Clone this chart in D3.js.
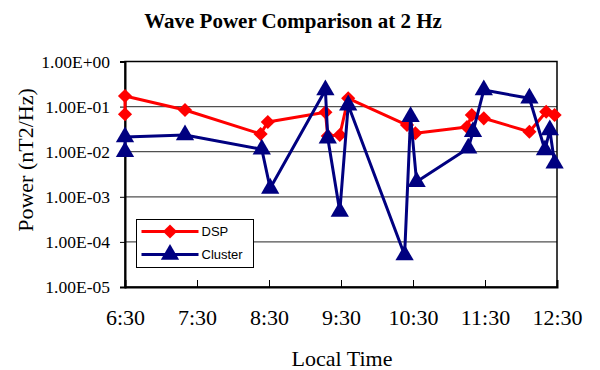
<!DOCTYPE html>
<html lang="en">
<head>
<meta charset="utf-8">
<style>
  body { margin: 0; background: white; }
  svg { background-color: white; font-family: 'Liberation Serif', 'Times New Roman', serif; }
  text.title { font-size: 21px; font-weight: bold; }
  .legend text { font-family: 'Liberation Sans', Arial, sans-serif; font-size: 13px; }
  .axis text { font-family: 'Liberation Serif', 'Times New Roman', serif; fill: #000; }
</style>
</head>
<body>
<div id="my_dataviz"></div>
<script src="https://d3js.org/d3.v7.min.js"></script>
<script>

// data (local time, power in nT2/Hz)
var dspTimes = ["6:30","6:30","7:20","8:23","8:29","9:17","9:19","9:29","9:36","10:25","10:32","11:15","11:19","11:29","12:07","12:21","12:28"];
var dspValues = [0.0675, 0.172, 0.084, 0.0247, 0.0456, 0.0748, 0.0223, 0.0235, 0.153, 0.039, 0.0256, 0.0353, 0.065, 0.055, 0.0277, 0.077, 0.065];

var clusterTimes = ["6:30","6:30","7:20","8:24","8:31","9:17","9:19","9:29","9:36","10:23","10:28","10:33","11:16","11:20","11:29","12:07","12:20","12:24","12:28"];
var clusterValues = [0.010, 0.0212, 0.0235, 0.0113, 0.00154, 0.233, 0.0198, 0.00047, 0.108, 0.000051, 0.0597, 0.00216, 0.0119, 0.0277, 0.233, 0.153, 0.0109, 0.0303, 0.00553];

var xTickLabels = ["6:30","7:30","8:30","9:30","10:30","11:30","12:30"];
var yTickValues = [1, 1e-1, 1e-2, 1e-3, 1e-4, 1e-5];

var seriesNames = ["DSP", "Cluster"];

function toMin(s) { var p = s.split(":"); return +p[0] * 60 + +p[1]; }
function sci(v) {
  var e = Math.round(Math.log10(v));
  var a = Math.abs(e);
  return "1.00E" + (e < 0 ? "-" : "+") + (a < 10 ? "0" : "") + a;
}

var margin = {top: 61.5, right: 43, bottom: 83, left: 125};
var W = 600, H = 370;
var width = W - margin.left - margin.right;
var height = H - margin.top - margin.bottom;

var svg = d3.select("#my_dataviz").append("svg")
  .attr("width", W).attr("height", H);

var g = svg.append("g")
  .attr("transform", "translate(" + margin.left + "," + margin.top + ")");

var x = d3.scaleLinear()
  .domain([toMin(xTickLabels[0]), toMin(xTickLabels[xTickLabels.length - 1])])
  .range([0, width]);

var y = d3.scaleLog()
  .domain([1e-5, 1])
  .range([height, 0]);

// gridlines
g.append("g")
  .selectAll("line")
  .data(yTickValues.slice(1, 5))
  .enter().append("line")
    .attr("x1", 0).attr("x2", width)
    .attr("y1", function(d) { return y(d); })
    .attr("y2", function(d) { return y(d); })
    .attr("stroke", "#505050")
    .attr("stroke-width", 1.3);

// frame (top and right)
g.append("rect")
  .attr("x", 0).attr("y", 0)
  .attr("width", width).attr("height", height)
  .attr("fill", "none")
  .attr("stroke", "#000")
  .attr("stroke-width", 1.5);

// Y axis
var yAxis = g.append("g")
  .attr("class", "axis")
  .call(d3.axisLeft(y).tickValues(yTickValues).tickFormat(sci).tickSize(5).tickPadding(10));
yAxis.attr("font-family", null);
yAxis.select(".domain").attr("stroke-width", 2);
yAxis.selectAll("text").style("font-size", "17.5px");

// X axis, ticks pointing inside
var xAxis = g.append("g")
  .attr("class", "axis")
  .attr("transform", "translate(0," + height + ")")
  .call(d3.axisBottom(x)
    .tickValues(xTickLabels.map(toMin))
    .tickFormat(function(d, i) { return xTickLabels[i]; })
    .tickSize(-7).tickPadding(22));
xAxis.attr("font-family", null);
xAxis.select(".domain").attr("stroke-width", 2);
xAxis.selectAll("text").style("font-size", "22px");

var diamond = d3.symbol().type(d3.symbolSquare).size(100);
var triangle = d3.symbol().type(d3.symbolTriangle).size(145);

var line = d3.line()
  .x(function(d) { return x(toMin(d[0])); })
  .y(function(d) { return y(d[1]); });

function drawSeries(times, values, color, sym, rot) {
  var pts = times.map(function(t, i) { return [t, values[i]]; });
  g.append("path")
    .datum(pts)
    .attr("fill", "none")
    .attr("stroke", color)
    .attr("stroke-width", 3)
    .attr("stroke-linejoin", "round")
    .attr("d", line);
  g.selectAll(null)
    .data(pts)
    .enter().append("path")
      .attr("d", sym)
      .attr("fill", color)
      .attr("transform", function(d) {
        return "translate(" + x(toMin(d[0])) + "," + y(d[1]) + ")" + (rot ? "rotate(45)" : "");
      });
}

drawSeries(dspTimes, dspValues, "#ff0000", diamond, true);
drawSeries(clusterTimes, clusterValues, "#000080", triangle, false);

// legend
var legend = svg.append("g").attr("class", "legend")
  .attr("transform", "translate(136.5,219.5)");
legend.append("rect")
  .attr("width", 117).attr("height", 48)
  .attr("fill", "white").attr("stroke", "#000").attr("stroke-width", 1);
var legendColors = ["#ff0000", "#000080"];
var legendSyms = [diamond, triangle];
seriesNames.forEach(function(name, i) {
  var ly = 12 + i * 23;
  legend.append("line")
    .attr("x1", 5).attr("x2", 62)
    .attr("y1", ly).attr("y2", ly)
    .attr("stroke", legendColors[i]).attr("stroke-width", 3);
  legend.append("path")
    .attr("d", legendSyms[i])
    .attr("fill", legendColors[i])
    .attr("transform", "translate(33.5," + ly + ")" + (i === 0 ? "rotate(45)" : ""));
  legend.append("text")
    .attr("x", 65).attr("y", ly)
    .attr("dy", "0.35em")
    .text(name);
});

// title and axis labels
svg.append("text")
  .attr("class", "title")
  .attr("x", 293).attr("y", 28)
  .attr("text-anchor", "middle")
  .text("Wave Power Comparison at 2 Hz");

svg.append("text")
  .attr("x", 342).attr("y", 366)
  .attr("text-anchor", "middle")
  .attr("font-size", "22px")
  .text("Local Time");

svg.append("text")
  .attr("transform", "translate(33,160)rotate(-90)")
  .attr("text-anchor", "middle")
  .attr("font-size", "22px")
  .text("Power (nT2/Hz)");

</script>
</body>
</html>
